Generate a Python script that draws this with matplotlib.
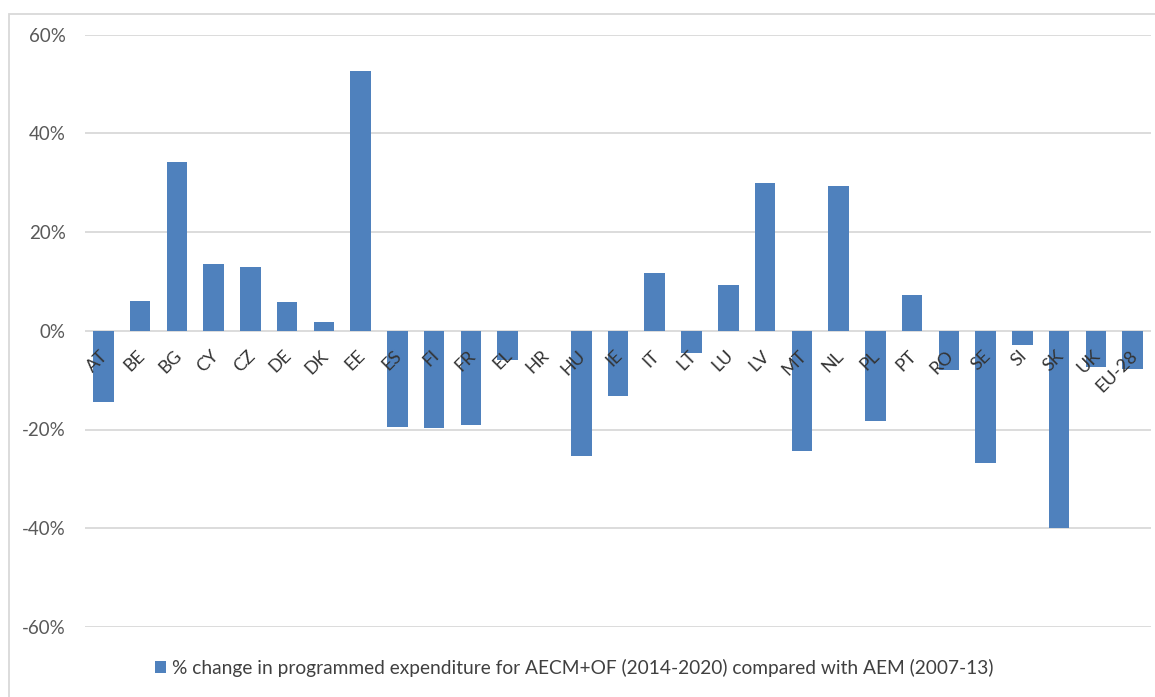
import matplotlib
matplotlib.use("Agg")
import matplotlib.pyplot as plt
from matplotlib.patches import Rectangle
from matplotlib.ticker import FuncFormatter

plt.rcParams["font.family"] = ["Lato", "DejaVu Sans"]

# Member states and change in programmed expenditure (share, not percent)
countries = ["AT", "BE", "BG", "CY", "CZ", "DE", "DK", "EE", "ES", "FI",
             "FR", "EL", "HR", "HU", "IE", "IT", "LT", "LU", "LV", "MT",
             "NL", "PL", "PT", "RO", "SE", "SI", "SK", "UK", "EU-28"]
change = [-0.144, 0.061, 0.341, 0.135, 0.129, 0.058, 0.017, 0.527, -0.194, -0.197,
          -0.190, -0.059, 0.0, -0.254, -0.132, 0.116, -0.046, 0.092, 0.300, -0.243,
          0.294, -0.183, 0.072, -0.079, -0.268, -0.029, -0.399, -0.073, -0.077]
yticks = [-0.6, -0.4, -0.2, 0.0, 0.2, 0.4, 0.6]
legend_label = "% change in programmed expenditure for AECM+OF (2014-2020) compared with AEM (2007-13)"

bar_color = "#4f81bd"
grid_color = "#d9d9d9"

fig = plt.figure(figsize=(11.55, 6.97), dpi=100)
fig.patch.set_facecolor("white")
ax = fig.add_axes([85 / 1155, 70 / 697, 1066 / 1155, 592.5 / 697])

x = list(range(len(countries)))
bars = ax.bar(x, change, width=0.56, color=bar_color, zorder=2,
              label=legend_label)

ax.set_xlim(-0.5, len(countries) - 0.5)
ax.set_ylim(-0.6, 0.6)
ax.set_yticks(yticks)
ax.yaxis.set_major_formatter(FuncFormatter(lambda v, _: f"{v * 100:.0f}%"))
ax.tick_params(axis="y", length=0, pad=14, labelsize=13.5, labelcolor="#595959")
ax.set_xticks([])
ax.grid(axis="y", color=grid_color, linewidth=1.3, zorder=0)
for spine in ax.spines.values():
    spine.set_visible(False)

# category labels sit just under the zero line, slanted
for i, name in enumerate(countries):
    ax.annotate(name, xy=(i, 0), xytext=(1.5, -16), textcoords="offset points",
                rotation=45, rotation_mode="anchor", ha="right", va="center",
                fontsize=13, color="#333333", zorder=3)

leg = fig.legend(handles=[bars], labels=[legend_label], loc="center",
                 bbox_to_anchor=(574 / 1155, 1 - 668 / 697), frameon=False,
                 fontsize=13.8, handlelength=0.6, handleheight=0.6,
                 handletextpad=0.3, labelcolor="#404040")

# thin frame around the chart area
fig.add_artist(Rectangle((9 / 1155, -0.05), 1.1, 1.05 - 14 / 697,
                         transform=fig.transFigure, fill=False,
                         edgecolor=grid_color, linewidth=1.3, clip_on=False))

fig.savefig("out.png", dpi=100, facecolor="white")
